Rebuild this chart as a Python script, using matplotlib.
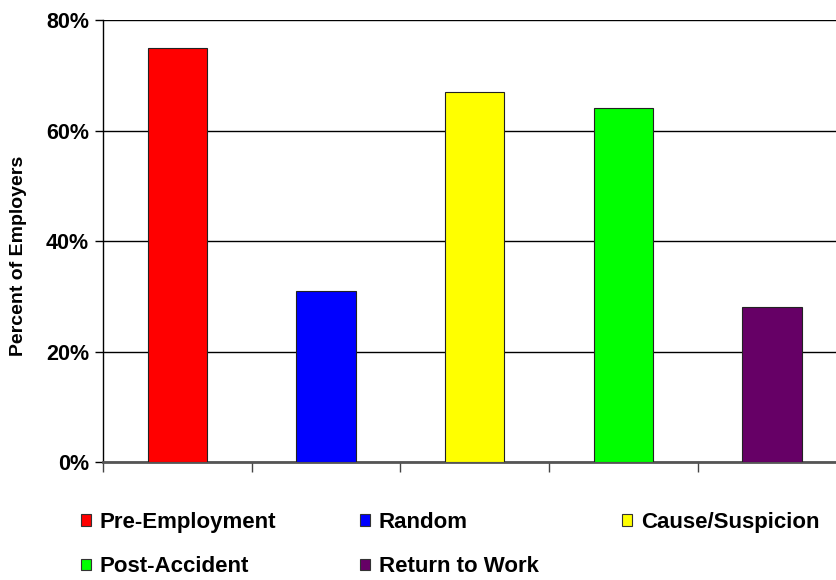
import numpy as np
import matplotlib.pyplot as plt
from matplotlib.ticker import PercentFormatter

# data
categories = ["Pre-Employment", "Random", "Cause/Suspicion", "Post-Accident", "Return to Work"]
values = [75, 31, 67, 64, 28]
colors = ["#FF0000", "#0000FF", "#FFFF00", "#00FF00", "#660066"]
yticks = [0, 20, 40, 60, 80]

plt.rcParams['font.family'] = ['Liberation Sans', 'DejaVu Sans']
plt.rcParams['font.weight'] = 'bold'

fig = plt.figure(figsize=(8.36, 5.8), dpi=100)
ax = fig.add_axes([0.1232, 0.2034, 0.889, 0.7621])

x = np.arange(len(categories))
ax.bar(x, values, width=0.4, color=colors, edgecolor="#222222", linewidth=0.8, zorder=3)

ax.set_xlim(-0.5, len(categories) - 0.5)
ax.set_ylim(0, 80)
ax.set_yticks(yticks)
ax.yaxis.set_major_formatter(PercentFormatter(decimals=0))
ax.set_xticks(np.arange(len(categories) + 1) - 0.5)
ax.set_xticklabels([])
ax.tick_params(axis='x', length=7, width=1, color='#444444')
ax.tick_params(axis='y', length=6, width=1, labelsize=15.5, pad=4)
for lab in ax.get_yticklabels():
    lab.set_fontweight('bold')

ax.grid(axis='y', color='black', linewidth=1, zorder=0)
ax.spines['top'].set_visible(False)
ax.spines['right'].set_visible(False)
ax.spines['left'].set_linewidth(1)
ax.spines['bottom'].set_color('#555555')
ax.spines['bottom'].set_linewidth(2)

ax.set_ylabel("Percent of Employers", fontsize=14, fontweight='bold')
ax.yaxis.set_label_coords(-0.102, 0.466)

# legend filled row by row: reorder for matplotlib's column-wise layout
handles = [plt.Rectangle((0, 0), 1, 1, facecolor=c, edgecolor='#333333', linewidth=0.8) for c in colors]
order = [0, 3, 1, 4, 2]
fig.legend([handles[i] for i in order], [categories[i] for i in order],
           loc='lower left', bbox_to_anchor=(0.073, -0.03), ncol=3,
           frameon=False, handlelength=0.45, handleheight=0.45,
           handletextpad=0.4, columnspacing=3.75, labelspacing=1.05,
           prop={'weight': 'bold', 'size': 16})

fig.savefig("out.png", dpi=100)
